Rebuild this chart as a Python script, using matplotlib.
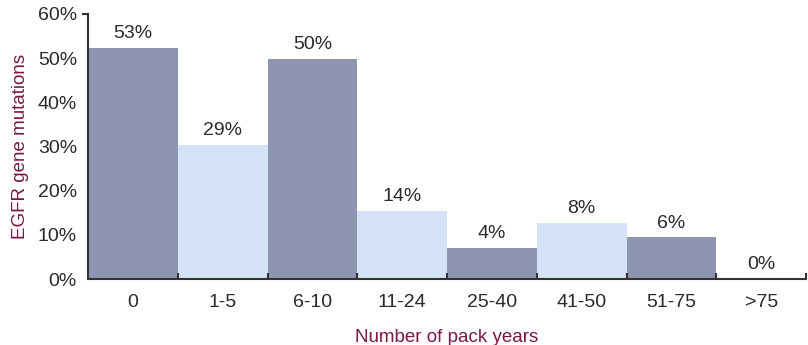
import matplotlib
matplotlib.use("Agg")
import matplotlib.pyplot as plt

# datos
categories = ["0", "1-5", "6-10", "11-24", "25-40", "41-50", "51-75", ">75"]
heights = [52.3, 30.3, 49.9, 15.4, 7.1, 12.7, 9.4, 0.0]
labels = ["53%", "29%", "50%", "14%", "4%", "8%", "6%", "0%"]
colors = ["#8e95b0", "#d5e3f6"] * 4

plt.rcParams["font.family"] = ["Liberation Sans", "DejaVu Sans"]

fig = plt.figure(figsize=(8.08, 3.45), dpi=100)
ax = fig.add_axes([88 / 808, 1 - 279 / 345, 718 / 808, 265 / 345])

x = list(range(len(categories)))
ax.bar(x, heights, width=1.0, color=colors, edgecolor="none")

for xi, h, lab in zip(x, heights, labels):
    ax.text(xi, h + 1.3, lab, ha="center", va="bottom", fontsize=14, color="#2a2a2a")

ax.set_xlim(-0.5, 7.5)
ax.set_ylim(0, 60)
ax.set_yticks(range(0, 61, 10))
ax.set_yticklabels([f"{v}%" for v in range(0, 61, 10)], fontsize=14, color="#2a2a2a")
ax.tick_params(axis="y", length=0, pad=8)
ax.set_xticks(x)
ax.set_xticklabels(categories, fontsize=14, color="#2a2a2a")
ax.tick_params(axis="x", which="major", length=0, pad=11)
ax.set_xticks([i + 0.5 for i in x], minor=True)
ax.tick_params(axis="x", which="minor", direction="in", length=4, width=1.5, color="#333333")
# pequena marca en 60%
ax.plot([-0.56, -0.5], [60, 60], color="#333333", lw=1.5, clip_on=False)

for s in ["top", "right"]:
    ax.spines[s].set_visible(False)
ax.spines["left"].set_color("#333333")
ax.spines["bottom"].set_color("#333333")
ax.spines["left"].set_linewidth(1.5)
ax.spines["bottom"].set_linewidth(1.5)

ax.set_ylabel("EGFR gene mutations", fontsize=13.5, color="#7a1845", labelpad=6)
ax.set_xlabel("Number of pack years", fontsize=13.5, color="#7a1845", labelpad=13)

fig.savefig("out.png", dpi=100)
